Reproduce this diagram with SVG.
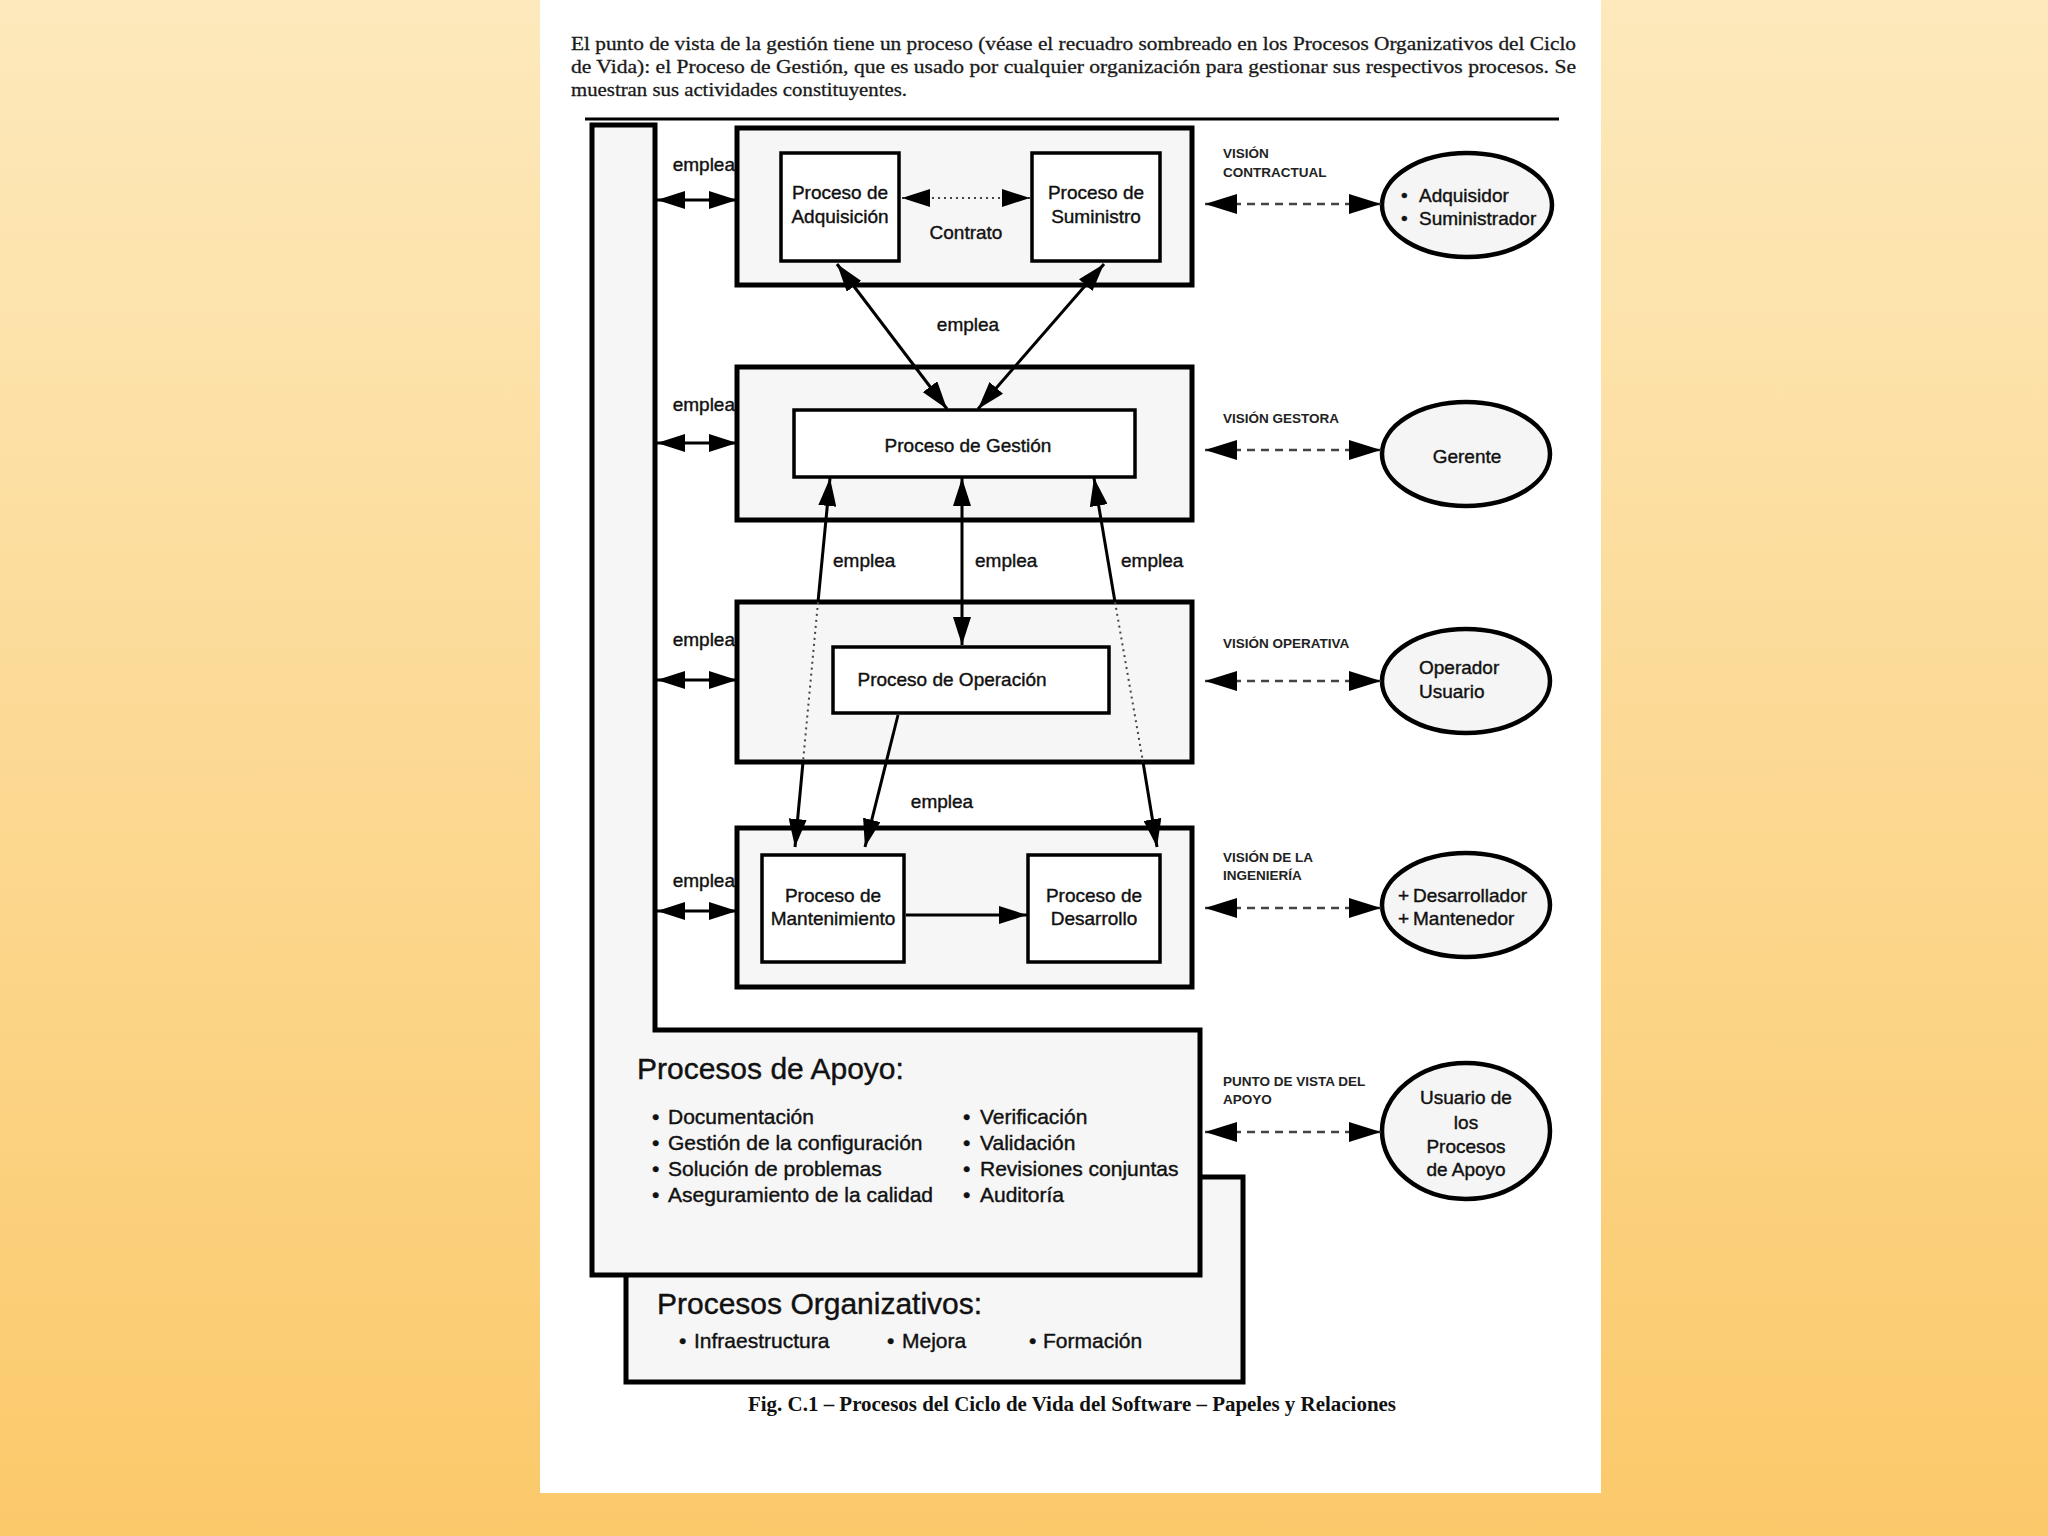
<svg xmlns="http://www.w3.org/2000/svg" width="2048" height="1536" viewBox="0 0 2048 1536">
<defs>
<linearGradient id="bg" x1="0" y1="0" x2="0" y2="1">
<stop offset="0" stop-color="#FDE9BC"/>
<stop offset="1" stop-color="#FBC96A"/>
</linearGradient>
<marker id="ah" markerWidth="28" markerHeight="18" refX="28" refY="9" orient="auto-start-reverse" markerUnits="userSpaceOnUse"><path d="M0,0 L28,9 L0,18 z" fill="#000" stroke="none"/></marker>
<marker id="av" markerWidth="32" markerHeight="20" refX="32" refY="10" orient="auto-start-reverse" markerUnits="userSpaceOnUse"><path d="M0,0 L32,10 L0,20 z" fill="#000" stroke="none"/></marker>
<style>
.hdr{font-family:"Liberation Serif","Times New Roman",serif;font-size:19px;fill:#1a1a1a;stroke:#1a1a1a;stroke-width:0.3}
.cap{font-family:"Liberation Serif","Times New Roman",serif;font-size:20px;font-weight:bold;fill:#111}
.big{fill:#f6f6f6;stroke:#000;stroke-width:5}
.inner{fill:#fff;stroke:#000;stroke-width:3.5}
.ell{fill:#f5f5f5;stroke:#000;stroke-width:4.5}
.t{font-family:"Liberation Sans",Arial,sans-serif;font-size:19px;fill:#111;stroke:#111;stroke-width:0.4}
.tc{text-anchor:middle}
.v{font-family:"Liberation Sans",Arial,sans-serif;font-size:13.5px;font-weight:bold;fill:#222}
.h{font-family:"Liberation Sans",Arial,sans-serif;font-size:30px;fill:#111;stroke:#111;stroke-width:0.4}
.li{font-family:"Liberation Sans",Arial,sans-serif;font-size:21px;fill:#111;stroke:#111;stroke-width:0.4}
.c{stroke:#000;stroke-width:3;fill:none}
.dot{stroke:#444;stroke-width:2;stroke-dasharray:2,4;fill:none}
.dash{stroke:#444;stroke-width:2.5;stroke-dasharray:8,6;fill:none}
</style>
</defs>
<rect x="0" y="0" width="2048" height="1536" fill="url(#bg)"/>
<rect x="540" y="0" width="1061" height="1493" fill="#fff"/>

<g id="header">
<text class="hdr" x="571" y="50" textLength="1005" lengthAdjust="spacingAndGlyphs">El punto de vista de la gestión tiene un proceso (véase el recuadro sombreado en los Procesos Organizativos del Ciclo</text>
<text class="hdr" x="571" y="73" textLength="1005" lengthAdjust="spacingAndGlyphs">de Vida): el Proceso de Gestión, que es usado por cualquier organización para gestionar sus respectivos procesos. Se</text>
<text class="hdr" x="571" y="96" textLength="336" lengthAdjust="spacingAndGlyphs">muestran sus actividades constituyentes.</text>
<line x1="585" y1="119" x2="1559" y2="119" stroke="#000" stroke-width="3"/>
</g>

<g id="organizativos">
<rect class="big" x="626" y="1177" width="617" height="205"/>
<text class="h" x="657" y="1314">Procesos Organizativos:</text>
<text class="li" x="679" y="1348">•</text><text class="li" x="694" y="1348">Infraestructura</text>
<text class="li" x="887" y="1348">•</text><text class="li" x="902" y="1348">Mejora</text>
<text class="li" x="1029" y="1348">•</text><text class="li" x="1043" y="1348">Formación</text>
</g>

<g id="apoyo">
<path class="big" d="M592,125 L655,125 L655,1030 L1200,1030 L1200,1275 L592,1275 Z"/>
<text class="h" x="637" y="1079">Procesos de Apoyo:</text>
<text class="li" x="652" y="1124">•</text><text class="li" x="668" y="1124">Documentación</text>
<text class="li" x="652" y="1150">•</text><text class="li" x="668" y="1150">Gestión de la configuración</text>
<text class="li" x="652" y="1176">•</text><text class="li" x="668" y="1176">Solución de problemas</text>
<text class="li" x="652" y="1202">•</text><text class="li" x="668" y="1202">Aseguramiento de la calidad</text>
<text class="li" x="963" y="1124">•</text><text class="li" x="980" y="1124">Verificación</text>
<text class="li" x="963" y="1150">•</text><text class="li" x="980" y="1150">Validación</text>
<text class="li" x="963" y="1176">•</text><text class="li" x="980" y="1176">Revisiones conjuntas</text>
<text class="li" x="963" y="1202">•</text><text class="li" x="980" y="1202">Auditoría</text>
</g>

<g id="contractual">
<rect class="big" x="737" y="128" width="455" height="157"/>
<rect class="inner" x="781" y="153" width="118" height="108"/>
<text class="t tc" x="840" y="199">Proceso de</text>
<text class="t tc" x="840" y="223">Adquisición</text>
<rect class="inner" x="1032" y="153" width="128" height="108"/>
<text class="t tc" x="1096" y="199">Proceso de</text>
<text class="t tc" x="1096" y="223">Suministro</text>
<text class="t tc" x="966" y="239">Contrato</text>
</g>

<g id="gestora">
<rect class="big" x="737" y="367" width="455" height="153"/>
<rect class="inner" x="794" y="410" width="341" height="67"/>
<text class="t tc" x="968" y="452">Proceso de Gestión</text>
</g>

<g id="operativa">
<rect class="big" x="737" y="602" width="455" height="160"/>
<rect class="inner" x="833" y="647" width="276" height="66"/>
<text class="t tc" x="952" y="686">Proceso de Operación</text>
</g>

<g id="ingenieria">
<rect class="big" x="737" y="828" width="455" height="159"/>
<rect class="inner" x="762" y="855" width="142" height="107"/>
<text class="t tc" x="833" y="902">Proceso de</text>
<text class="t tc" x="833" y="925">Mantenimiento</text>
<rect class="inner" x="1028" y="855" width="132" height="107"/>
<text class="t tc" x="1094" y="902">Proceso de</text>
<text class="t tc" x="1094" y="925">Desarrollo</text>
</g>

<g id="actor-contractual">
<ellipse class="ell" cx="1467" cy="205" rx="85" ry="52"/>
<text class="t" x="1401" y="202">•</text><text class="t" x="1419" y="202">Adquisidor</text>
<text class="t" x="1401" y="225">•</text><text class="t" x="1419" y="225">Suministrador</text>
</g>
<g id="actor-gerente">
<ellipse class="ell" cx="1466" cy="454" rx="84" ry="52"/>
<text class="t tc" x="1467" y="463">Gerente</text>
</g>
<g id="actor-operador">
<ellipse class="ell" cx="1466" cy="681" rx="84" ry="52"/>
<text class="t" x="1419" y="674">Operador</text>
<text class="t" x="1419" y="698">Usuario</text>
</g>
<g id="actor-desarrollador">
<ellipse class="ell" cx="1466" cy="905" rx="84" ry="52"/>
<text class="t" x="1398" y="902">+</text><text class="t" x="1413" y="902">Desarrollador</text>
<text class="t" x="1398" y="925">+</text><text class="t" x="1413" y="925">Mantenedor</text>
</g>
<g id="actor-apoyo">
<ellipse class="ell" cx="1466" cy="1131" rx="84" ry="68"/>
<text class="t tc" x="1466" y="1104">Usuario de</text>
<text class="t tc" x="1466" y="1129">los</text>
<text class="t tc" x="1466" y="1153">Procesos</text>
<text class="t tc" x="1466" y="1176">de Apoyo</text>
</g>

<g id="vision-labels">
<text class="v" x="1223" y="158">VISIÓN</text>
<text class="v" x="1223" y="177">CONTRACTUAL</text>
<text class="v" x="1223" y="423">VISIÓN GESTORA</text>
<text class="v" x="1223" y="648">VISIÓN OPERATIVA</text>
<text class="v" x="1223" y="862">VISIÓN DE LA</text>
<text class="v" x="1223" y="880">INGENIERÍA</text>
<text class="v" x="1223" y="1086">PUNTO DE VISTA DEL</text>
<text class="v" x="1223" y="1104">APOYO</text>
</g>

<g id="connectors">
<line class="c" x1="657" y1="200" x2="737" y2="200" marker-start="url(#ah)" marker-end="url(#ah)"/>
<line class="c" x1="657" y1="443" x2="737" y2="443" marker-start="url(#ah)" marker-end="url(#ah)"/>
<line class="c" x1="657" y1="680" x2="737" y2="680" marker-start="url(#ah)" marker-end="url(#ah)"/>
<line class="c" x1="657" y1="911" x2="737" y2="911" marker-start="url(#ah)" marker-end="url(#ah)"/>
<line class="dot" x1="902" y1="198" x2="1030" y2="198" marker-start="url(#ah)" marker-end="url(#ah)"/>
<line class="c" x1="837" y1="264" x2="947" y2="409" marker-start="url(#ah)" marker-end="url(#ah)"/>
<line class="c" x1="1104" y1="264" x2="978" y2="409" marker-start="url(#ah)" marker-end="url(#ah)"/>
<line class="c" x1="962" y1="478" x2="962" y2="645" marker-start="url(#ah)" marker-end="url(#ah)"/>
<line class="c" x1="830" y1="478" x2="818" y2="602" marker-start="url(#ah)"/>
<line class="dot" x1="818" y1="602" x2="803" y2="762"/>
<line class="c" x1="803" y1="762" x2="795" y2="847" marker-end="url(#ah)"/>
<line class="c" x1="1094" y1="478" x2="1115" y2="602" marker-start="url(#ah)"/>
<line class="dot" x1="1115" y1="602" x2="1143" y2="762"/>
<line class="c" x1="1143" y1="762" x2="1157" y2="847" marker-end="url(#ah)"/>
<line class="c" x1="898" y1="715" x2="865" y2="847" marker-end="url(#ah)"/>
<line class="c" x1="906" y1="915" x2="1027" y2="915" marker-end="url(#ah)"/>
<line class="dash" x1="1205" y1="204" x2="1381" y2="204" marker-start="url(#av)" marker-end="url(#av)"/>
<line class="dash" x1="1205" y1="450" x2="1381" y2="450" marker-start="url(#av)" marker-end="url(#av)"/>
<line class="dash" x1="1205" y1="681" x2="1381" y2="681" marker-start="url(#av)" marker-end="url(#av)"/>
<line class="dash" x1="1205" y1="908" x2="1381" y2="908" marker-start="url(#av)" marker-end="url(#av)"/>
<line class="dash" x1="1205" y1="1132" x2="1381" y2="1132" marker-start="url(#av)" marker-end="url(#av)"/>
<text class="t" x="735" y="171" text-anchor="end">emplea</text>
<text class="t" x="735" y="411" text-anchor="end">emplea</text>
<text class="t" x="735" y="646" text-anchor="end">emplea</text>
<text class="t" x="735" y="887" text-anchor="end">emplea</text>
<text class="t tc" x="968" y="331">emplea</text>
<text class="t" x="833" y="567">emplea</text>
<text class="t" x="975" y="567">emplea</text>
<text class="t" x="1121" y="567">emplea</text>
<text class="t tc" x="942" y="808">emplea</text>
</g>

<text class="cap" x="748" y="1411" textLength="648" lengthAdjust="spacingAndGlyphs">Fig. C.1 – Procesos del Ciclo de Vida del Software – Papeles y Relaciones</text>
</svg>
